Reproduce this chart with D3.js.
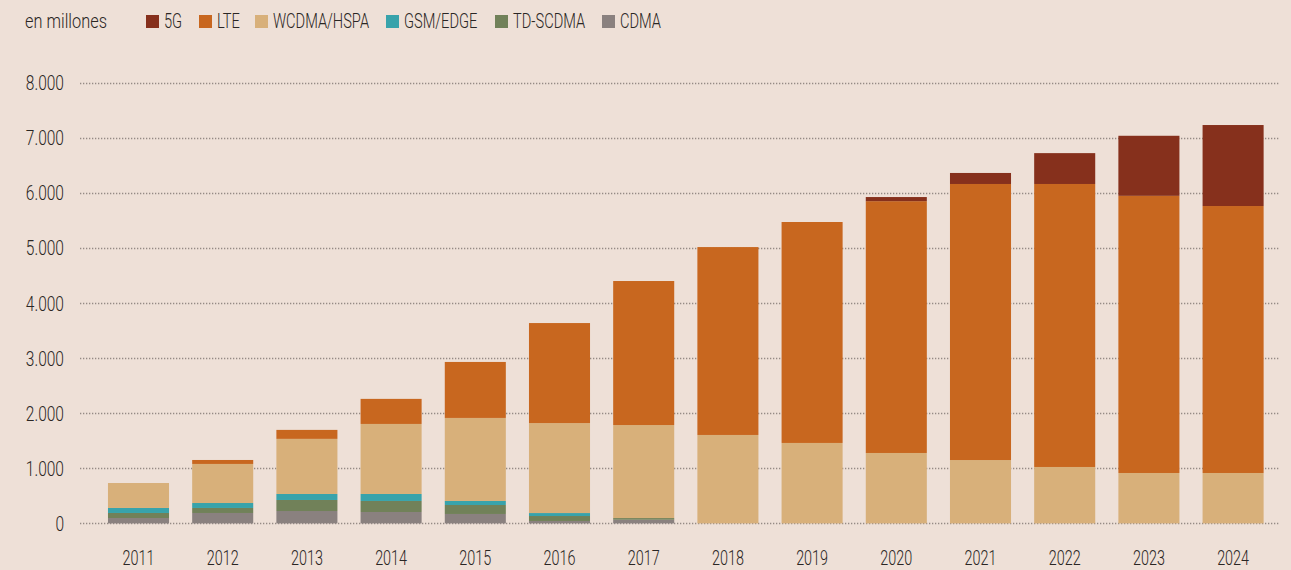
<!DOCTYPE html>
<html>
<head>
<meta charset="utf-8">
<script src="https://d3js.org/d3.v7.min.js"></script>
<style>
    html, body { margin: 0; padding: 0; background: #eee0d7; }
    text { font-family: "Roboto", "Liberation Sans", sans-serif; font-weight: 300; fill: #2a2624; }
</style>
</head>
<body>
<script>
    var w = 1291;
    var h = 570;

    var years = ['2011','2012','2013','2014','2015','2016','2017','2018','2019','2020','2021','2022','2023','2024'];
    var cdma    = [98, 189, 225, 207, 171, 44, 67, 0, 0, 0, 0, 0, 0, 0];
    var tdscdma = [91, 91, 200, 200, 163, 90, 30, 0, 0, 0, 0, 0, 0, 0];
    var gsm     = [91, 90, 109, 127, 73, 54, 0, 0, 0, 0, 0, 0, 0, 0];
    var wcdma   = [453, 709, 1000, 1271, 1507, 1633, 1688, 1605, 1460, 1278, 1150, 1024, 915, 915];
    var lte     = [0, 72, 163, 455, 1016, 1815, 2614, 3410, 4010, 4570, 5010, 5136, 5030, 4845];
    var fiveG   = [0, 0, 0, 0, 0, 0, 0, 0, 0, 75, 200, 560, 1090, 1470];

    var seriesNames = ['CDMA', 'TD-SCDMA', 'GSM/EDGE', 'WCDMA/HSPA', 'LTE', '5G'];
    var seriesColors = ['#8a817f', '#718159', '#38a3ab', '#d8b07a', '#c8671f', '#86301c'];
    var legendOrder = ['5G', 'LTE', 'WCDMA/HSPA', 'GSM/EDGE', 'TD-SCDMA', 'CDMA'];
    var legendX = [146, 199, 255, 386, 495, 602];
    var yTicks = [0, 1000, 2000, 3000, 4000, 5000, 6000, 7000, 8000];

    var rows = years.map(function(y, i) {
        return { year: y, 'CDMA': cdma[i], 'TD-SCDMA': tdscdma[i], 'GSM/EDGE': gsm[i],
                 'WCDMA/HSPA': wcdma[i], 'LTE': lte[i], '5G': fiveG[i] };
    });

    var xScale = d3.scaleBand()
        .domain(years)
        .range([96.4, 1275.2])
        .paddingInner(0.275)
        .paddingOuter(0.1375);

    var yScale = d3.scaleLinear()
        .domain([0, 8000])
        .range([523.4, 82.6]);

    var color = d3.scaleOrdinal().domain(seriesNames).range(seriesColors);

    var svg = d3.select('body').append('svg')
        .attr('width', w)
        .attr('height', h);

    // gridlines
    svg.append('g').selectAll('line')
        .data(yTicks)
        .join('line')
        .attr('x1', 80)
        .attr('x2', 1279)
        .attr('y1', function(d) { return Math.round(yScale(d)) + 0.5; })
        .attr('y2', function(d) { return Math.round(yScale(d)) + 0.5; })
        .attr('stroke', '#958a85')
        .attr('stroke-width', 1.3)
        .attr('stroke-dasharray', '1.3,1.7');

    // y labels (narrowed to mimic condensed face)
    var fmt = function(d) { return d === 0 ? '0' : d3.format(',')(d).replace(',', '.'); };
    svg.append('g').selectAll('text')
        .data(yTicks)
        .join('text')
        .attr('transform', function(d) { return 'translate(64,' + yScale(d) + ') scale(0.74,1)'; })
        .attr('dy', '0.36em')
        .attr('text-anchor', 'end')
        .attr('font-size', 21)
        .text(fmt);

    // bars
    var stacked = d3.stack().keys(seriesNames)(rows);
    svg.append('g').selectAll('g')
        .data(stacked)
        .join('g')
        .attr('fill', function(d) { return color(d.key); })
        .selectAll('rect')
        .data(function(d) { return d; })
        .join('rect')
        .attr('x', function(d) { return xScale(d.data.year); })
        .attr('width', xScale.bandwidth())
        .attr('y', function(d) { return yScale(d[1]); })
        .attr('height', function(d) { return yScale(d[0]) - yScale(d[1]); });

    // x labels
    svg.append('g').selectAll('text')
        .data(years)
        .join('text')
        .attr('transform', function(d) {
            return 'translate(' + (xScale(d) + xScale.bandwidth() / 2) + ',565) scale(0.72,1)';
        })
        .attr('text-anchor', 'middle')
        .attr('font-size', 20)
        .text(function(d) { return d; });

    // legend
    svg.append('text')
        .attr('transform', 'translate(25,28) scale(0.84,1)')
        .attr('font-size', 19.5)
        .text('en millones');

    var lg = svg.append('g').selectAll('g')
        .data(legendOrder)
        .join('g')
        .attr('transform', function(d, i) { return 'translate(' + legendX[i] + ',0)'; });
    lg.append('rect')
        .attr('y', 15)
        .attr('width', 13)
        .attr('height', 13)
        .attr('fill', function(d) { return color(d); });
    lg.append('text')
        .attr('transform', 'translate(18,28) scale(0.75,1)')
        .attr('font-size', 19.5)
        .text(function(d) { return d; });
</script>
</body>
</html>
